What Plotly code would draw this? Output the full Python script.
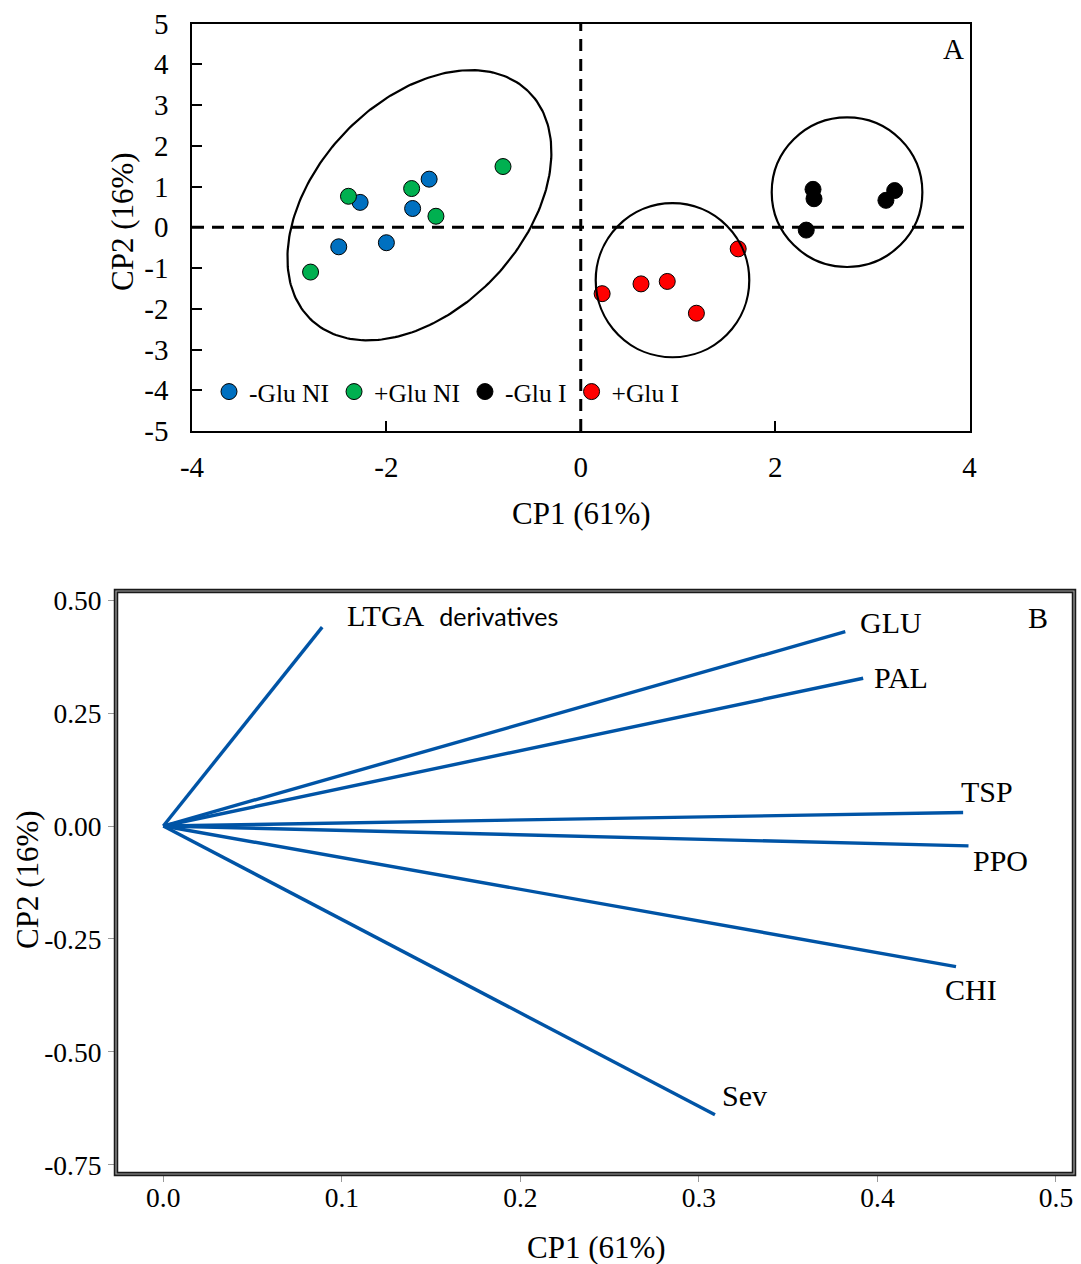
import numpy as np
import plotly.graph_objects as go

# ---------------- Panel A: PCA scores ----------------
groups = ["-Glu NI", "+Glu NI", "-Glu I", "+Glu I"]
group_colors = ["#0070C0", "#00B050", "#000000", "#FF0000"]

cp1_glu_minus_ni = [-2.27, -1.56, -1.73, -2.49, -2.00]
cp2_glu_minus_ni = [0.61, 1.18, 0.46, -0.48, -0.38]

cp1_glu_plus_ni = [-2.39, -1.74, -1.49, -0.80, -2.78]
cp2_glu_plus_ni = [0.76, 0.95, 0.27, 1.49, -1.10]

cp1_glu_minus_i = [2.39, 2.40, 3.23, 3.14, 2.32]
cp2_glu_minus_i = [0.93, 0.70, 0.90, 0.66, -0.07]

cp1_glu_plus_i = [0.22, 0.62, 0.89, 1.19, 1.62]
cp2_glu_plus_i = [-1.63, -1.39, -1.33, -2.11, -0.53]

scores_x = [cp1_glu_minus_ni, cp1_glu_plus_ni, cp1_glu_minus_i, cp1_glu_plus_i]
scores_y = [cp2_glu_minus_ni, cp2_glu_plus_ni, cp2_glu_minus_i, cp2_glu_plus_i]

# confidence ellipses (data units): centre and two conjugate half-axes
ni_center = (-1.66, 0.54)
ni_axis_u = (1.113, 2.813)
ni_axis_v = (-0.778, 1.755)
glu_plus_i_box = (0.154, 1.734, -3.19, 0.59)     # x0, x1, y0, y1
glu_minus_i_box = (1.965, 3.515, -0.975, 2.695)

a_xticks = [-4, -2, 0, 2, 4]
a_xticktext = ["-4", "-2", "0", "2", "4"]
a_yticks = [-5, -4, -3, -2, -1, 0, 1, 2, 3, 4, 5]
a_yticktext = ["-5", "-4", "-3", "-2", "-1", "0", "1", "2", "3", "4", "5"]

# ---------------- Panel B: loadings ----------------
variables = ["LTGA", "GLU", "PAL", "TSP", "PPO", "CHI", "Sev"]
load_cp1 = [0.089, 0.382, 0.392, 0.448, 0.451, 0.444, 0.309]
load_cp2 = [0.440, 0.430, 0.327, 0.030, -0.044, -0.311, -0.639]

b_xticks = [0.0, 0.1, 0.2, 0.3, 0.4, 0.5]
b_xticktext = ["0.0", "0.1", "0.2", "0.3", "0.4", "0.5"]
b_yticks = [-0.75, -0.50, -0.25, 0.0, 0.25, 0.50]
b_yticktext = ["-0.75", "-0.50", "-0.25", "0.00", "0.25", "0.50"]

W, H = 1081, 1264
SERIF = "Liberation Serif"


def px_x(p):
    return p / W


def px_y(p):
    return 1 - p / H


fig = go.Figure()

# ellipse around the non-inoculated samples
t = np.linspace(0, 2 * np.pi, 240)
ex = ni_center[0] + ni_axis_u[0] * np.cos(t) + ni_axis_v[0] * np.sin(t)
ey = ni_center[1] + ni_axis_u[1] * np.cos(t) + ni_axis_v[1] * np.sin(t)
fig.add_trace(go.Scatter(x=ex, y=ey, mode="lines", line=dict(color="black", width=2.2),
                         showlegend=False, hoverinfo="skip", xaxis="x", yaxis="y"))

for name, col, xs, ys in zip(groups, group_colors, scores_x, scores_y):
    fig.add_trace(go.Scatter(
        x=xs, y=ys, mode="markers", name=name,
        marker=dict(size=16, color=col, line=dict(color="black", width=1)),
        xaxis="x", yaxis="y"))

# loading vectors
vx, vy = [], []
for a, b in zip(load_cp1, load_cp2):
    vx += [0, a, None]
    vy += [0, b, None]
fig.add_trace(go.Scatter(x=vx, y=vy, mode="lines", line=dict(color="#0054A6", width=3.4),
                         showlegend=False, hoverinfo="skip", xaxis="x2", yaxis="y2"))

shapes = [
    # reference lines through the origin
    dict(type="line", xref="x", yref="y", x0=0, x1=0, y0=-5, y1=5,
         line=dict(color="black", width=3, dash="12px,8px")),
    dict(type="line", xref="x", yref="y", x0=-4, x1=4, y0=0, y1=0,
         line=dict(color="black", width=3, dash="12px,8px")),
    dict(type="circle", xref="x", yref="y", x0=glu_plus_i_box[0], x1=glu_plus_i_box[1],
         y0=glu_plus_i_box[2], y1=glu_plus_i_box[3], line=dict(color="black", width=2.2)),
    dict(type="circle", xref="x", yref="y", x0=glu_minus_i_box[0], x1=glu_minus_i_box[1],
         y0=glu_minus_i_box[2], y1=glu_minus_i_box[3], line=dict(color="black", width=2.2)),
    # double frame of the loadings panel
    dict(type="rect", xref="x2 domain", yref="y2 domain", x0=0, x1=1, y0=0, y1=1,
         line=dict(color="#1a1a1a", width=4.5)),
    dict(type="rect", xref="x2 domain", yref="y2 domain", x0=0, x1=1, y0=0, y1=1,
         line=dict(color="#a0a0a0", width=1.2)),
]

# label offsets (px) from each vector tip
label_shift = {
    "LTGA": (23, 12), "GLU": (13, 9), "PAL": (9, 1), "TSP": (-4, 21),
    "PPO": (3, -15), "CHI": (-13, -23), "Sev": (5, 19),
}

annotations = []
for name, a, b in zip(variables, load_cp1, load_cp2):
    dx, dy = label_shift[name]
    text = name
    if name == "LTGA":
        text = "LTGA\u00a0\u00a0<span style='font-family:Lato;font-size:25px'>derivatives</span>"
    annotations.append(dict(x=a, y=b, xref="x2", yref="y2", text=text, showarrow=False,
                            xanchor="left", yanchor="middle", xshift=dx, yshift=dy,
                            font=dict(family=SERIF, size=30, color="black")))

# panel letters and axis titles
annotations += [
    dict(x=px_x(953), y=px_y(49), xref="paper", yref="paper", text="A", showarrow=False,
         xanchor="center", yanchor="middle", font=dict(family=SERIF, size=29, color="black")),
    dict(x=px_x(1038), y=px_y(618), xref="paper", yref="paper", text="B", showarrow=False,
         xanchor="center", yanchor="middle", font=dict(family=SERIF, size=30, color="black")),
    dict(x=px_x(581), y=px_y(513), xref="paper", yref="paper", text="CP1 (61%)", showarrow=False,
         xanchor="center", yanchor="middle", font=dict(family=SERIF, size=31, color="black")),
    dict(x=px_x(122), y=px_y(222), xref="paper", yref="paper", text="CP2 (16%)", showarrow=False,
         textangle=-90, xanchor="center", yanchor="middle",
         font=dict(family=SERIF, size=31, color="black")),
    dict(x=px_x(596), y=px_y(1247), xref="paper", yref="paper", text="CP1 (61%)", showarrow=False,
         xanchor="center", yanchor="middle", font=dict(family=SERIF, size=31, color="black")),
    dict(x=px_x(27), y=px_y(880), xref="paper", yref="paper", text="CP2 (16%)", showarrow=False,
         textangle=-90, xanchor="center", yanchor="middle",
         font=dict(family=SERIF, size=31, color="black")),
]

tick_font_a = dict(family=SERIF, size=29, color="black")
tick_font_b = dict(family=SERIF, size=27.5, color="black")

fig.update_layout(
    width=W, height=H, autosize=False,
    margin=dict(l=0, r=0, t=0, b=0, pad=0),
    paper_bgcolor="white", plot_bgcolor="white",
    showlegend=True,
    legend=dict(orientation="h", x=px_x(209), y=px_y(392), xanchor="left", yanchor="middle",
                bgcolor="rgba(0,0,0,0)", font=dict(family=SERIF, size=25.5, color="black"),
                itemwidth=30, tracegroupgap=0),
    xaxis=dict(domain=[px_x(192), px_x(969.5)], range=[-4, 4], anchor="y", automargin=False,
               tickvals=a_xticks, ticktext=a_xticktext, ticks="inside", ticklen=10, tickwidth=1.5,
               tickcolor="black", showline=True, linecolor="black", linewidth=1.6, mirror=True,
               showgrid=False, zeroline=False, tickfont=tick_font_a, ticklabelstandoff=9),
    yaxis=dict(domain=[px_y(431), px_y(23.5)], range=[-5, 5], anchor="x", automargin=False,
               tickvals=a_yticks, ticktext=a_yticktext, ticks="inside", ticklen=10, tickwidth=1.5,
               tickcolor="black", showline=True, linecolor="black", linewidth=1.6, mirror=True,
               showgrid=False, zeroline=False, tickfont=tick_font_a, ticklabelstandoff=16),
    xaxis2=dict(domain=[px_x(116), px_x(1074)], range=[-0.0265, 0.5101], anchor="y2",
                automargin=False,
                tickvals=b_xticks, ticktext=b_xticktext, ticks="outside", ticklen=7, tickwidth=1,
                tickcolor="#999999", showline=False, showgrid=False, zeroline=False,
                tickfont=tick_font_b, ticklabelstandoff=-8),
    yaxis2=dict(domain=[px_y(1174), px_y(591)], range=[-0.770, 0.520], anchor="x2",
                automargin=False,
                tickvals=b_yticks, ticktext=b_yticktext, ticks="outside", ticklen=7, tickwidth=1,
                tickcolor="#999999", showline=False, showgrid=False, zeroline=False,
                tickfont=tick_font_b, ticklabelstandoff=1),
    shapes=shapes,
    annotations=annotations,
)

fig.write_html("out.html")
